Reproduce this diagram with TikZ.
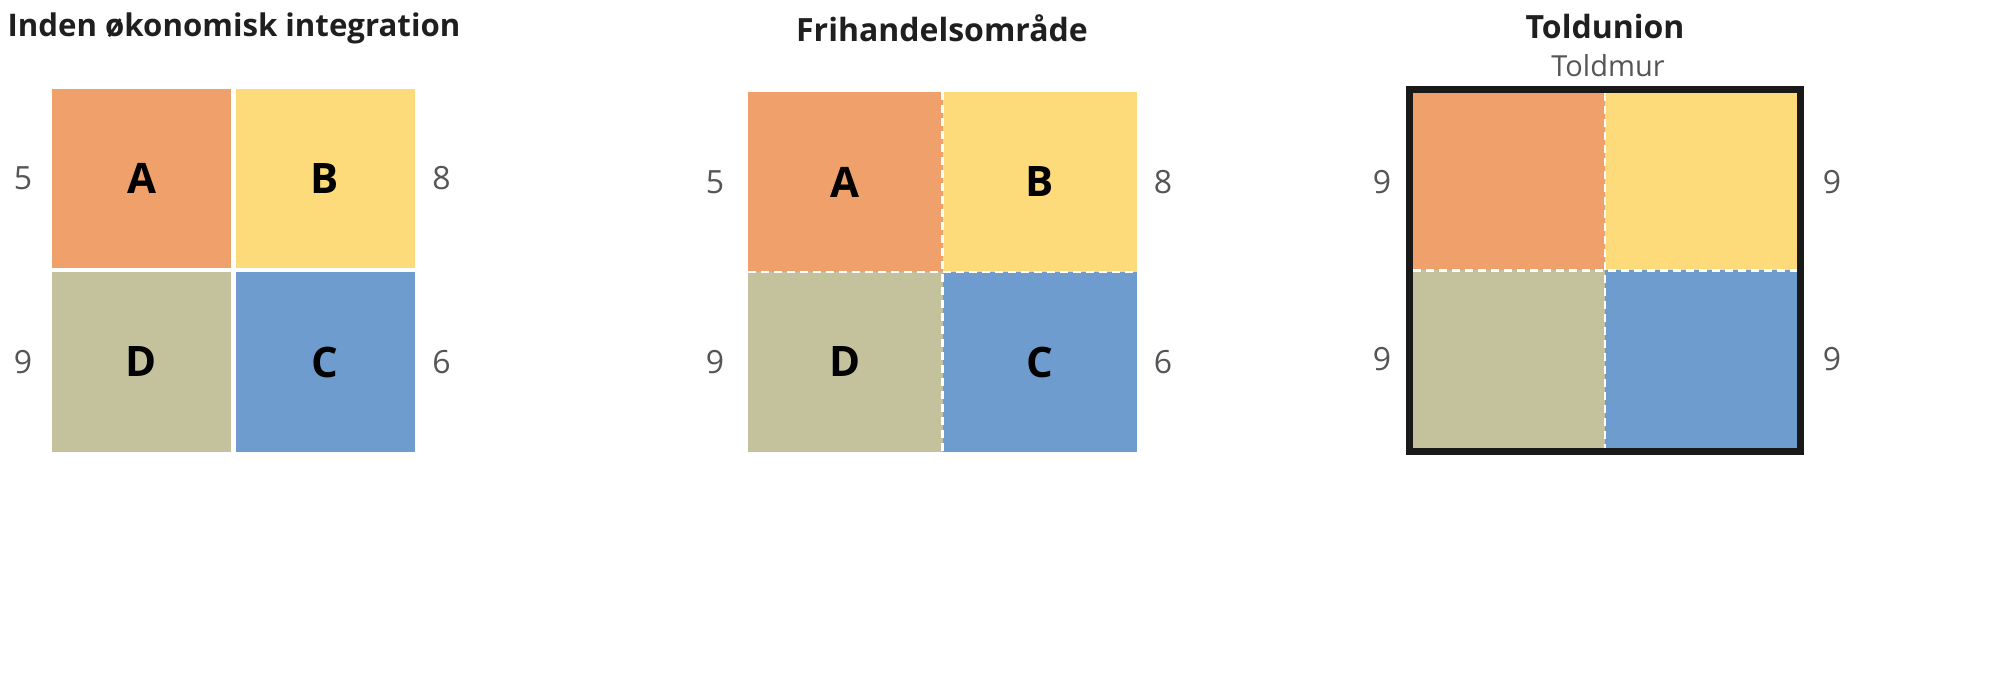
\documentclass[tikz,border=0pt]{standalone}
\usepackage{fontspec}
\setmainfont{Open Sans}
\usetikzlibrary{positioning,fit,calc}
\definecolor{landA}{HTML}{F0A06A}
\definecolor{landB}{HTML}{FDDA7A}
\definecolor{landC}{HTML}{6E9CCE}
\definecolor{landD}{HTML}{C4C29C}
\definecolor{numgray}{HTML}{555555}
\tikzset{cellbox/.style={inner sep=0pt, outer sep=0pt, minimum width=#1, font=\bfseries\fontsize{21}{22}\selectfont}}
\tikzset{cell1/.style={cellbox=89.5pt, minimum height=89.5pt}}
\tikzset{cell2/.style={cellbox=97.25pt, minimum height=90pt}}
\tikzset{cell3/.style={cellbox=96pt, minimum height=88.75pt}}
\tikzset{numlab/.style={inner sep=0pt, text=numgray, font=\fontsize{16}{18}\selectfont}}
\tikzset{paneltitle/.style={inner sep=0pt, text=black!88, font=\bfseries\fontsize{16}{18}\selectfont}}
\tikzset{wallgap/.style={draw=white, line width=1.1pt, dash pattern=on 4pt off 2.5pt}}
\tikzset{wall/.style={draw=black!90, line width=3.5pt, inner sep=1.75pt}}

\begin{document}
\begin{tikzpicture}[x=0.5pt, y=-0.5pt]
\useasboundingbox (0,0) rectangle (2000,673);
% uden integration
\node[cell1, fill=landA] (A1) at (141.5,178.5) {A};
\node[cell1, fill=landB, right=2.25pt of A1] (B1) {B};
\node[cell1, fill=landD, below=2.25pt of A1] (D1) {D};
\node[cell1, fill=landC, below=2.25pt of B1] (C1) {C};
\node[paneltitle, font=\bfseries\fontsize{15.6}{18}\selectfont] (T1) at (234,28) {Inden økonomisk integration};
\node[numlab] at ([xshift=-14.5pt]A1.west) {5};
\node[numlab] at ([xshift=13.5pt]B1.east) {8};
\node[numlab] at ([xshift=-14.5pt]D1.west) {9};
\node[numlab] at ([xshift=13.5pt]C1.east) {6};
% frihandel
\node[cell2, fill=landA] (A2) at (845.25,182) {A};
\node[cell2, fill=landB, right=0pt of A2] (B2) {B};
\node[cell2, fill=landD, below=0pt of A2] (D2) {D};
\node[cell2, fill=landC, below=0pt of B2] (C2) {C};
\draw[wallgap] (A2.north east) -- (D2.south east);
\draw[wallgap] (A2.south west) -- (B2.south east);
\node[paneltitle] (T2) at (942,28) {Frihandelsområde};
\node[numlab] at ([xshift=-16.5pt]A2.west) {5};
\node[numlab] at ([xshift=13pt]B2.east) {8};
\node[numlab] at ([xshift=-16.5pt]D2.west) {9};
\node[numlab] at ([xshift=13pt]C2.east) {6};
% toldunion
\node[cell3, fill=landA] (A3) at (1509,181.75) {};
\node[cell3, fill=landB, right=0pt of A3] (B3) {};
\node[cell3, fill=landD, below=0pt of A3] (D3) {};
\node[cell3, fill=landC, below=0pt of B3] (C3) {};
\draw[wallgap] (A3.north east) -- (D3.south east);
\draw[wallgap] (A3.south west) -- (B3.south east);
\node[wall, fit=(A3) (C3)] (W3) {};
\node[paneltitle] (T3) at (1605,27) {Toldunion};
\node[numlab, font=\fontsize{14.5}{16}\selectfont] (M3) at (1608,66) {Toldmur};
\node[numlab] at ([xshift=-12pt]W3.west |- A3.west) {9};
\node[numlab] at ([xshift=14pt]W3.east |- B3.east) {9};
\node[numlab] at ([xshift=-12pt]W3.west |- D3.west) {9};
\node[numlab] at ([xshift=14pt]W3.east |- C3.east) {9};
\end{tikzpicture}
\end{document}
